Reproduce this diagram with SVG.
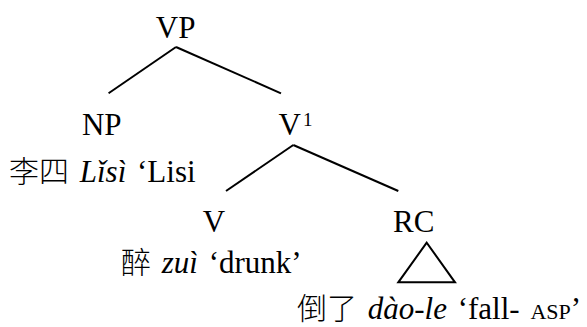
<svg xmlns="http://www.w3.org/2000/svg" width="587" height="327" viewBox="0 0 587 327" font-family="'Liberation Serif', serif">
<style>
.t{font-family:'Liberation Serif','Times New Roman',serif;font-size:31px;fill:#000}
.g{word-spacing:3px}
.cjk{font-family:'Noto Sans CJK SC','Noto Sans CJK TC',sans-serif;font-weight:300;font-size:30px}
.it{font-style:italic}
.sc{font-size:22px}
.sup{font-size:19px}
line,polygon{stroke:#000;stroke-width:2;fill:none}
</style>
<rect width="587" height="327" fill="#fff"/>
<g id="connectors">
<line x1="176" y1="47" x2="108.6" y2="93.3"/>
<line x1="176" y1="47" x2="281" y2="93.3"/>
<line x1="293.3" y1="145" x2="226" y2="191"/>
<line x1="293.3" y1="145" x2="398.3" y2="191"/>
</g>
<g id="VP"><text class="t" x="175.6" y="38" text-anchor="middle">VP</text></g>
<g id="NP"><text class="t" x="101.7" y="135" text-anchor="middle">NP</text>
<text class="t g" x="9" y="182"><tspan class="cjk">李四</tspan> <tspan class="it">Lǐsì</tspan> ‘Lisi</text></g>
<g id="V1"><text class="t" x="278.5" y="135">V</text><text class="t sup" x="303" y="126">1</text></g>
<g id="V"><text class="t" x="214" y="232" text-anchor="middle">V</text>
<text class="t g" x="121" y="273"><tspan class="cjk">醉</tspan> <tspan class="it">zuì</tspan> ‘drunk’</text></g>
<g id="RC"><text class="t" x="393" y="232">RC</text>
<polygon points="426.7,242.7 398.3,282.3 455,282.3"/>
<text class="t g" x="297" y="319"><tspan class="cjk">倒了</tspan> <tspan class="it">dào-le</tspan> ‘fall- <tspan class="sc">ASP</tspan>’</text></g>
</svg>
